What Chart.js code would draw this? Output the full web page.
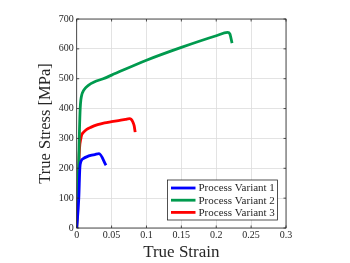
<!DOCTYPE html>
<html>
<head>
<meta charset="utf-8">
<script src="https://cdn.jsdelivr.net/npm/chart.js@4.4.1/dist/chart.umd.min.js"></script>
<style>
  html, body { margin: 0; padding: 0; background: #fff; }
  #wrap { width: 350px; height: 263px; }
</style>
</head>
<body>
<div id="wrap"><canvas id="myChart" width="350" height="263"></canvas></div>
<script>
// series data
const labels = ['Process Variant 1', 'Process Variant 2', 'Process Variant 3'];
const colors = ['#0000ff', '#009a4e', '#ff0000'];

const strain1 = [0, 0.003, 0.0045, 0.006, 0.01, 0.015, 0.02, 0.026, 0.032, 0.042];
const stress1 = [0, 100, 200, 222, 233, 239, 243, 246, 249, 210];

const strain2 = [0, 0.0015, 0.003, 0.004, 0.005, 0.006, 0.0075, 0.0095, 0.013, 0.0167, 0.025, 0.038, 0.05, 0.1, 0.15, 0.2, 0.2164, 0.2195, 0.2227];
const stress2 = [0, 100, 230, 330, 400, 430, 448, 459, 470, 478, 489, 500, 512, 562, 605, 644, 655, 650, 619];

const strain3 = [0, 0.0014, 0.0029, 0.004, 0.006, 0.0072, 0.01, 0.0144, 0.02, 0.03, 0.04, 0.05, 0.06, 0.07, 0.0756, 0.078, 0.0805, 0.0824, 0.0838];
const stress3 = [0, 100, 200, 265, 300, 312, 321, 330, 337, 346, 352, 356, 360, 364, 366, 364, 355, 342, 321];

const xTicks = [0, 0.05, 0.1, 0.15, 0.2, 0.25, 0.3];
const yTicks = [0, 100, 200, 300, 400, 500, 600, 700];

const FONT = 'Liberation Serif';

function pts(xs, ys) {
  return xs.map((x, i) => ({ x: x, y: ys[i] }));
}
const series = [pts(strain1, stress1), pts(strain2, stress2), pts(strain3, stress3)];

// box around plot + inward ticks + legend
const boxPlugin = {
  id: 'boxPlugin',
  afterDatasetsDraw(chart) {
    const ctx = chart.ctx;
    const a = chart.chartArea;
    const xs = chart.scales.x, ys = chart.scales.y;
    ctx.save();
    ctx.strokeStyle = '#262626';
    ctx.lineWidth = 0.8;
    ctx.strokeRect(a.left, a.top, a.right - a.left, a.bottom - a.top);
    ctx.beginPath();
    xTicks.forEach(v => {
      const px = xs.getPixelForValue(v);
      ctx.moveTo(px, a.bottom); ctx.lineTo(px, a.bottom - 2.5);
      ctx.moveTo(px, a.top); ctx.lineTo(px, a.top + 2.5);
    });
    yTicks.forEach(v => {
      const py = ys.getPixelForValue(v);
      ctx.moveTo(a.left, py); ctx.lineTo(a.left + 2.5, py);
      ctx.moveTo(a.right, py); ctx.lineTo(a.right - 2.5, py);
    });
    ctx.stroke();

    // legend (lower right, inside the axes)
    const bx = 167.5, by = 180, bw = 110, bh = 40;
    ctx.fillStyle = '#fff';
    ctx.fillRect(bx, by, bw, bh);
    ctx.strokeStyle = '#262626';
    ctx.lineWidth = 0.8;
    ctx.strokeRect(bx, by, bw, bh);
    ctx.font = '11px "' + FONT + '"';
    ctx.textBaseline = 'middle';
    labels.forEach((lab, i) => {
      const cy = by + 8 + i * 12.2;
      ctx.strokeStyle = colors[i];
      ctx.lineWidth = 2.8;
      ctx.beginPath();
      ctx.moveTo(bx + 3.5, cy); ctx.lineTo(bx + 28, cy);
      ctx.stroke();
      ctx.fillStyle = '#262626';
      ctx.fillText(lab, bx + 31, cy + 0.5);
    });
    ctx.restore();
  }
};

const ctx = document.getElementById('myChart').getContext('2d');
new Chart(ctx, {
  type: 'scatter',
  data: {
    datasets: series.map((d, i) => ({
      label: labels[i],
      data: d,
      showLine: true,
      borderColor: colors[i],
      backgroundColor: colors[i],
      borderWidth: 2.8,
      pointRadius: 0,
      cubicInterpolationMode: 'monotone'
    }))
  },
  options: {
    responsive: false,
    animation: false,
    layout: { padding: { left: 36, right: 64, top: 19, bottom: 0 } },
    plugins: {
      legend: { display: false },
      tooltip: { enabled: false }
    },
    scales: {
      x: {
        type: 'linear',
        min: 0, max: 0.3,
        afterBuildTicks: s => { s.ticks = xTicks.map(v => ({ value: v })); },
        afterFit: s => { s.height = 35; },
        ticks: {
          font: { family: FONT, size: 10 },
          color: '#262626',
          padding: 1,
          maxRotation: 0,
          callback: v => String(v)
        },
        grid: { color: '#dcdcdc', lineWidth: 0.8, drawTicks: false },
        border: { display: false },
        title: {
          display: true,
          text: 'True Strain',
          font: { family: FONT, size: 17 },
          color: '#262626',
          padding: { top: 0, bottom: 0 }
        }
      },
      y: {
        type: 'linear',
        min: 0, max: 700,
        afterBuildTicks: s => { s.ticks = yTicks.map(v => ({ value: v })); },
        afterFit: s => { s.width = 40.7; },
        ticks: {
          font: { family: FONT, size: 10 },
          color: '#262626',
          padding: 3
        },
        grid: { color: '#dcdcdc', lineWidth: 0.8, drawTicks: false },
        border: { display: false },
        title: {
          display: true,
          text: 'True Stress [MPa]',
          font: { family: FONT, size: 16.5 },
          color: '#262626',
          padding: { top: 0, bottom: 0 }
        }
      }
    }
  },
  plugins: [boxPlugin]
});
</script>
</body>
</html>
